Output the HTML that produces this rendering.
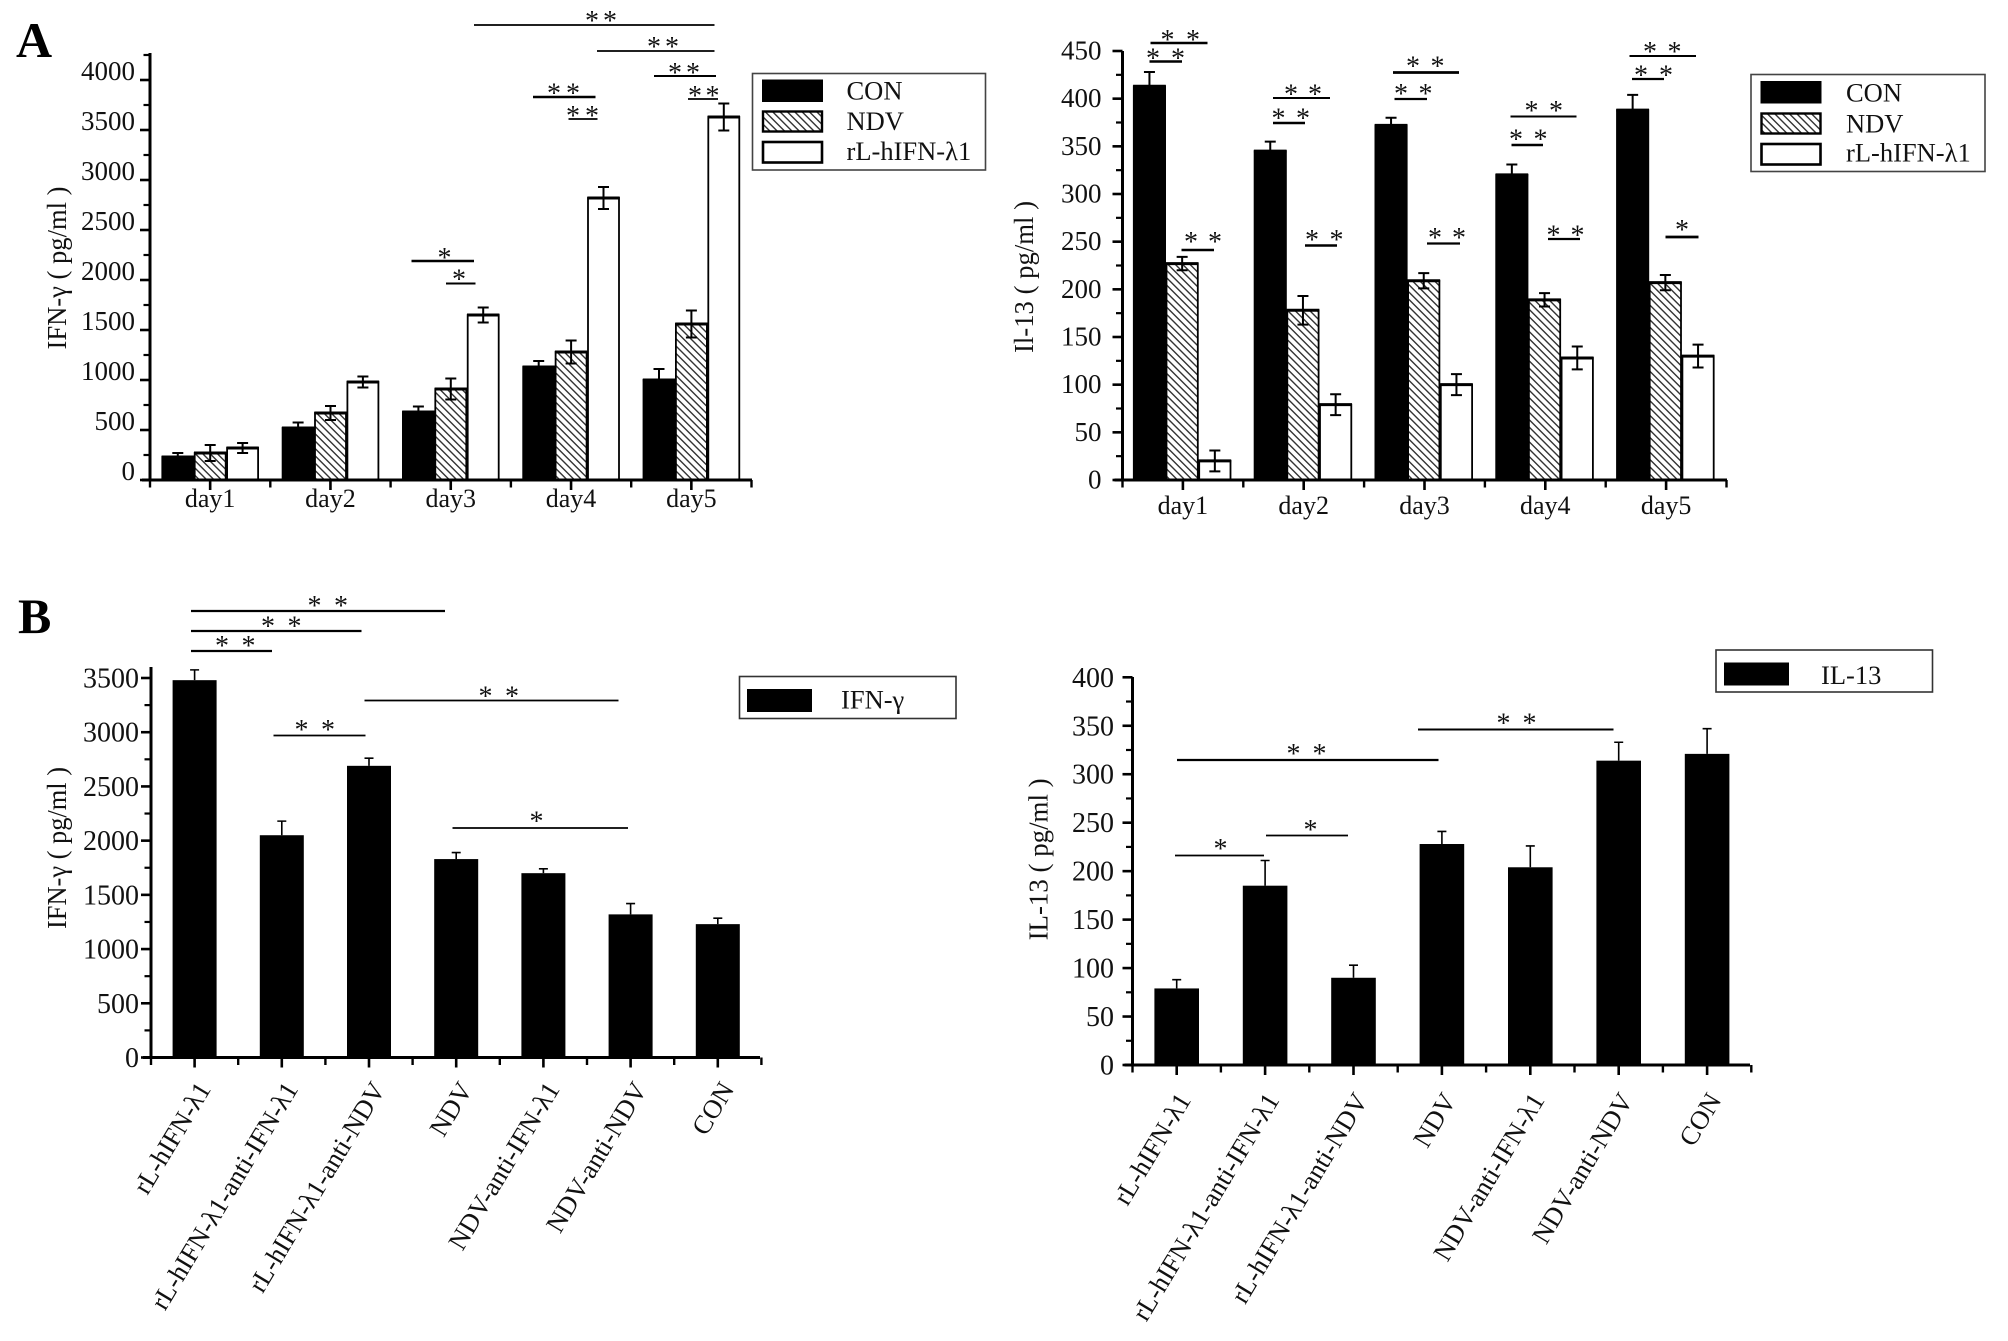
<!DOCTYPE html>
<html lang="en">
<head>
<meta charset="utf-8">
<title>IFN-γ and IL-13 bar charts</title>
<style>
html,body{margin:0;padding:0;background:#fff;}
svg{display:block;font-family:"Liberation Serif","Noto Serif CJK SC",serif;fill:#111;}
</style>
</head>
<body>
<svg id="figure" xmlns="http://www.w3.org/2000/svg" width="2008" height="1341" viewBox="0 0 2008 1341">
  <defs>
    <pattern id="hatch" patternUnits="userSpaceOnUse" width="5.2" height="5.2" patternTransform="rotate(45)">
      <rect width="5.2" height="5.2" fill="#fff"/>
      <rect x="0" y="0" width="5.2" height="1.4" fill="#333"/>
    </pattern>
  </defs>
  <rect width="2008" height="1341" fill="#fff"/>

  <text x="16" y="57" font-size="50" font-weight="bold" fill="#000">A</text>
  <text x="18" y="633" font-size="50" font-weight="bold" fill="#000">B</text>

  <text transform="translate(66,349.5) rotate(-90)" font-size="27" textLength="163" lengthAdjust="spacingAndGlyphs">IFN-γ ( pg/ml )</text>
  <text transform="translate(1033,353) rotate(-90)" font-size="27" textLength="152" lengthAdjust="spacingAndGlyphs">Il-13 ( pg/ml )</text>
  <text transform="translate(66,929) rotate(-90)" font-size="27" textLength="162" lengthAdjust="spacingAndGlyphs">IFN-γ ( pg/ml )</text>
  <text transform="translate(1047.5,940.4) rotate(-90)" font-size="27" textLength="162" lengthAdjust="spacingAndGlyphs">IL-13 ( pg/ml )</text>

  <g>
    <rect x="752.5" y="73.5" width="233" height="96.5" fill="#fff" stroke="#444" stroke-width="1.6"/>
    <rect x="762" y="79.5" width="61" height="22.5" fill="#000"/>
    <rect x="763" y="111.5" width="59" height="20" fill="url(#hatch)" stroke="#000" stroke-width="2.4"/>
    <rect x="763" y="142" width="59" height="20.5" fill="#fff" stroke="#000" stroke-width="2.6"/>
    <text x="846.5" y="99.5" font-size="26.5">CON</text>
    <text x="846.5" y="130" font-size="26.5">NDV</text>
    <text x="846.5" y="160" font-size="26.5">rL-hIFN-λ1</text>
  </g>
  <g>
    <rect x="1751" y="74.5" width="234" height="97" fill="#fff" stroke="#444" stroke-width="1.6"/>
    <rect x="1760.5" y="81" width="61" height="22.5" fill="#000"/>
    <rect x="1761.5" y="113.5" width="59" height="20" fill="url(#hatch)" stroke="#000" stroke-width="2.4"/>
    <rect x="1761.5" y="144" width="59" height="20.5" fill="#fff" stroke="#000" stroke-width="2.6"/>
    <text x="1846" y="101.5" font-size="26.5">CON</text>
    <text x="1846" y="132.5" font-size="26.5">NDV</text>
    <text x="1846" y="161.5" font-size="26.5">rL-hIFN-λ1</text>
  </g>
  <g>
    <rect x="739.5" y="676.5" width="216.5" height="42" fill="#fff" stroke="#333" stroke-width="1.6"/>
    <rect x="747" y="689" width="65" height="23" fill="#000"/>
    <text x="841" y="708.5" font-size="26.5">IFN-γ</text>
  </g>
  <g>
    <rect x="1716" y="650" width="216.5" height="42" fill="#fff" stroke="#333" stroke-width="1.6"/>
    <rect x="1724" y="662.5" width="65" height="23" fill="#000"/>
    <text x="1821" y="684" font-size="26.5">IL-13</text>
  </g>

  <g id="plots"></g>
  <g id="annotations"></g>
</svg>

<script>
// ---------- Chart data ----------
const dayLabels = ['day1', 'day2', 'day3', 'day4', 'day5'];

const ifnDayCon    = [230, 520, 680, 1130, 1000];
const ifnDayConErr = [40, 55, 55, 60, 110];
const ifnDayNdv    = [270, 670, 910, 1280, 1560];
const ifnDayNdvErr = [80, 70, 105, 115, 135];
const ifnDayRl     = [320, 980, 1650, 2820, 3630];
const ifnDayRlErr  = [50, 55, 75, 110, 135];
const ifnDayTicks  = [0, 500, 1000, 1500, 2000, 2500, 3000, 3500, 4000];

const ilDayCon    = [413, 345, 372, 320, 388];
const ilDayConErr = [15, 10, 8, 11, 16];
const ilDayNdv    = [227, 178, 209, 189, 207];
const ilDayNdvErr = [7, 15, 8, 7, 8];
const ilDayRl     = [20, 79, 100, 128, 130];
const ilDayRlErr  = [11, 11, 11, 12, 12];
const ilDayTicks  = [0, 50, 100, 150, 200, 250, 300, 350, 400, 450];

const groupLabels = ['rL-hIFN-λ1', 'rL-hIFN-λ1-anti-IFN-λ1', 'rL-hIFN-λ1-anti-NDV', 'NDV', 'NDV-anti-IFN-λ1', 'NDV-anti-NDV', 'CON'];

const ifnGroupValues = [3480, 2050, 2690, 1830, 1700, 1320, 1230];
const ifnGroupErrors = [95, 130, 70, 60, 40, 100, 55];
const ifnGroupTicks  = [0, 500, 1000, 1500, 2000, 2500, 3000, 3500];

const ilGroupValues = [79, 185, 90, 228, 204, 314, 321];
const ilGroupErrors = [9, 26, 13, 13, 22, 19, 26];
const ilGroupTicks  = [0, 50, 100, 150, 200, 250, 300, 350, 400];

// ---------- Drawing helpers ----------
const NS = 'http://www.w3.org/2000/svg';
const plots = document.getElementById('plots');
const annotations = document.getElementById('annotations');

function make(tag, attrs, parent, text) {
  const node = document.createElementNS(NS, tag);
  for (const k in attrs) node.setAttribute(k, attrs[k]);
  if (text !== undefined) node.textContent = text;
  parent.appendChild(node);
  return node;
}

function rule(parent, x1, y1, x2, y2, w) {
  const l = make('line', {x1: x1, y1: y1, x2: x2, y2: y2, stroke: '#000', 'stroke-width': w}, parent);
  return l;
}

function drawAxes(g, o) {
  const yAxis = rule(g, o.x0, o.top, o.x0, o.base + 1.5, o.axisW);
  
  
  const xAxis = rule(g, o.x0 - 8, o.base, o.xEnd, o.base, o.axisW);
  
  

  o.ticks.forEach(function (v, i) {
    const y = o.y(v);
    const t = rule(g, o.x0 - 10, y, o.x0, y, 2.6);
    
    
    const lab = make('text', {x: o.labelRight, y: y + o.labelDy, 'font-size': o.tickFont, 'text-anchor': 'end'}, g, String(v));
    
    
    if (i < o.ticks.length - 1) {
      const mid = (v + o.ticks[i + 1]) / 2;
      const m = rule(g, o.x0 - 6.5, o.y(mid), o.x0, o.y(mid), 2.2);
      
      
    }
  });
  // minor tick above the last labelled tick, when the axis extends past it
  const last = o.ticks[o.ticks.length - 1];
  const step = o.ticks[1] - o.ticks[0];
  if (o.y(last + step / 2) >= o.top) {
    const m2 = rule(g, o.x0 - 6.5, o.y(last + step / 2), o.x0, o.y(last + step / 2), 2.2);
    
    
  }
  for (let i = 0; i <= o.count; i++) {
    const edge = o.x0 + i * o.band;
    const t = rule(g, edge, o.base, edge, o.base + 7.5, 2.4);
    
    
    if (i < o.count) {
      const c = edge + o.band / 2;
      const t2 = rule(g, c, o.base, c, o.base + 10, 2.6);
      
      
    }
  }
}

function drawGroupedPanel(name, o, labels, series) {
  const g = make('g', {}, plots);
  
  
  series.forEach(function (s, si) {
    s.values.forEach(function (v, i) {
      const x = o.x0 + i * o.band + o.inset + si * o.barW;
      const r = make('rect', {x: x + 0.7, y: o.y(v), width: o.barW - 1.4, height: o.base - o.y(v), fill: s.fill, stroke: '#000', 'stroke-width': 1.8}, g);
      
      
      const cap = rule(g, x, o.y(v), x + o.barW, o.y(v), 3);
      
      
    });
  });
  series.forEach(function (s, si) {
    s.values.forEach(function (v, i) {
      const cx = o.x0 + i * o.band + o.inset + (si + 0.5) * o.barW;
      const top = o.y(v + s.errors[i]);
      const bottom = o.y(v - s.errors[i]);
      const e = make('path', {d: 'M' + (cx - 5.5) + ' ' + top + 'H' + (cx + 5.5) + 'M' + cx + ' ' + top + 'V' + bottom + 'M' + (cx - 5.5) + ' ' + bottom + 'H' + (cx + 5.5), fill: 'none', stroke: '#000', 'stroke-width': 2}, g);
      
      
    });
  });
  drawAxes(g, o);
  labels.forEach(function (lab, i) {
    const t = make('text', {x: o.x0 + (i + 0.5) * o.band, y: o.catY, 'font-size': 26, 'text-anchor': 'middle'}, g, lab);
    
    
  });
}

function drawSinglePanel(name, o, labels, values, errors) {
  const g = make('g', {}, plots);
  
  
  values.forEach(function (v, i) {
    const cx = o.x0 + (i + 0.5) * o.band;
    const e = make('path', {d: 'M' + (cx - 4.5) + ' ' + o.y(v + errors[i]) + 'H' + (cx + 4.5) + 'M' + cx + ' ' + o.y(v + errors[i]) + 'V' + o.y(v), fill: 'none', stroke: '#000', 'stroke-width': 1.6}, g);
    
    
    const r = make('rect', {x: cx - o.barW / 2, y: o.y(v), width: o.barW, height: o.base - o.y(v), fill: '#000'}, g);
    
    
  });
  drawAxes(g, o);
  labels.forEach(function (lab, i) {
    const cx = o.x0 + (i + 0.5) * o.band;
    const t = make('text', {'font-size': 26.5, 'text-anchor': 'end', transform: 'translate(' + (cx + o.rotDx) + ',' + o.rotY + ') rotate(-59)'}, g, lab);
    
    
  });
}

function sig(x1, x2, y, w, starsX, starY) {
  const l = rule(annotations, x1, y, x2, y, w);
  
  
  starsX.forEach(function (sx) {
    const s = make('text', {x: sx, y: starY + 13, 'font-size': 28, 'text-anchor': 'middle'}, annotations, '*');
    
    
  });
}

// ---------- Panels ----------
drawGroupedPanel('ifn-by-day-chart', {
  x0: 150, xEnd: 752, base: 480, top: 53, band: 120.3, count: 5, inset: 11.6, barW: 32.4,
  y: function (v) { return 480 - v * 0.1; },
  ticks: ifnDayTicks, labelRight: 135, labelDy: 0, tickFont: 27, axisW: 3, catY: 507
}, dayLabels, [
  {key: 'con', fill: '#000', values: ifnDayCon, errors: ifnDayConErr},
  {key: 'ndv', fill: 'url(#hatch)', values: ifnDayNdv, errors: ifnDayNdvErr},
  {key: 'rl', fill: '#fff', values: ifnDayRl, errors: ifnDayRlErr}
]);

drawGroupedPanel('il13-by-day-chart', {
  x0: 1122.5, xEnd: 1727, base: 480, top: 51, band: 120.8, count: 5, inset: 10.6, barW: 32.7,
  y: function (v) { return 480 - v * (429 / 450); },
  ticks: ilDayTicks, labelRight: 1101.5, labelDy: 8.5, tickFont: 27, axisW: 3, catY: 514
}, dayLabels, [
  {key: 'con', fill: '#000', values: ilDayCon, errors: ilDayConErr},
  {key: 'ndv', fill: 'url(#hatch)', values: ilDayNdv, errors: ilDayNdvErr},
  {key: 'rl', fill: '#fff', values: ilDayRl, errors: ilDayRlErr}
]);

drawSinglePanel('ifn-by-group-chart', {
  x0: 151, xEnd: 760, base: 1057.5, top: 667, band: 87.2, count: 7, barW: 44,
  y: function (v) { return 1057.5 - v * (379.5 / 3500); },
  ticks: ifnGroupTicks, labelRight: 139, labelDy: 9.5, tickFont: 28, axisW: 3, rotDx: 17, rotY: 1089
}, groupLabels, ifnGroupValues, ifnGroupErrors);

drawSinglePanel('il13-by-group-chart', {
  x0: 1132.5, xEnd: 1750, base: 1065, top: 677, band: 88.4, count: 7, barW: 44.6,
  y: function (v) { return 1065 - v * (387.7 / 400); },
  ticks: ilGroupTicks, labelRight: 1114, labelDy: 9.5, tickFont: 28, axisW: 3, rotDx: 15, rotY: 1100
}, groupLabels, ilGroupValues, ilGroupErrors);

// ---------- Significance annotations ----------
sig(474, 714.5, 25, 1.8, [592, 610], 17);
sig(597, 714.5, 51, 1.8, [654, 672], 43);
sig(654, 716, 76, 2, [675, 693], 69);
sig(688, 718, 99, 1.8, [695, 712.5], 92);
sig(533, 595.5, 97, 2.6, [554, 573], 89.5);
sig(568.5, 597.5, 119, 1.8, [573, 592], 112);
sig(411.5, 474, 261, 2.6, [444.5], 254);
sig(446, 475.5, 283.5, 2, [459], 275.5);

sig(1150.5, 1207.5, 43, 2.6, [1167.5, 1193], 36);
sig(1149.5, 1182, 61.5, 2.6, [1153, 1178], 54.5);
sig(1181.5, 1214, 250, 2.6, [1191, 1215], 238);
sig(1273, 1330, 98, 2, [1291, 1315], 90.5);
sig(1273, 1305, 123, 2.6, [1278.5, 1303], 114.5);
sig(1305, 1337, 245.5, 2.6, [1312, 1336.5], 236);
sig(1393, 1459, 72.5, 2.8, [1413, 1437.5], 62.5);
sig(1394.5, 1427, 99, 2.2, [1401, 1425.5], 90);
sig(1427, 1460, 243.5, 2.2, [1435, 1459], 234);
sig(1510.5, 1576.5, 116.5, 2, [1531.5, 1556], 107);
sig(1511.5, 1543, 145, 2.6, [1516, 1540.5], 135.5);
sig(1548, 1580, 239, 2.2, [1553.5, 1577.5], 231.5);
sig(1629.5, 1696, 56, 2, [1650, 1674.5], 48);
sig(1632, 1664, 79, 2.2, [1641, 1666], 71.5);
sig(1665.5, 1698.5, 237, 2.8, [1682], 226);

sig(191, 445, 611, 2.2, [314.5, 341], 602);
sig(191, 361.5, 631, 2.2, [268, 294.5], 622.5);
sig(191, 272, 651, 2.2, [222, 248.5], 642);
sig(364.5, 618.5, 700.5, 1.8, [485.5, 512], 692.5);
sig(273.5, 365.5, 735.5, 1.8, [301.5, 328], 726);
sig(452.5, 628, 828, 1.8, [536.5], 817.5);

sig(1418, 1613.5, 729.5, 2, [1503.5, 1529.5], 719.5);
sig(1177, 1438.5, 760, 2.2, [1293.5, 1319.5], 750);
sig(1266, 1348, 835.5, 1.8, [1310.5], 826);
sig(1175, 1264, 855.5, 1.8, [1220.5], 845);
</script>
</body>
</html>
